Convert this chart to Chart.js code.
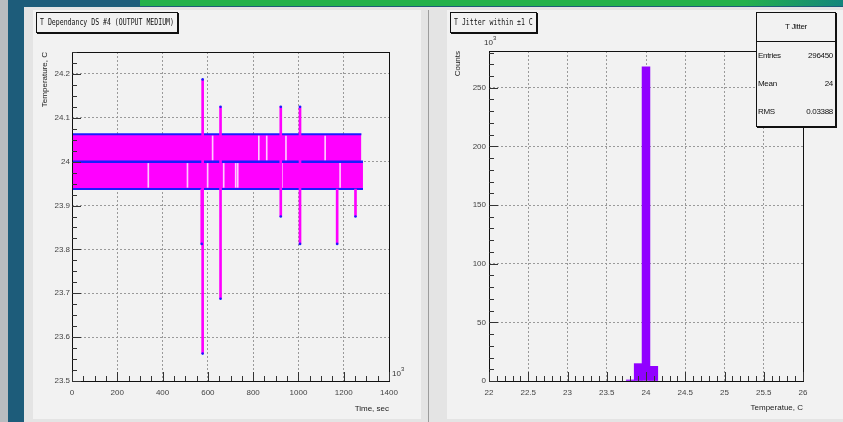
<!DOCTYPE html>
<html>
<head>
<meta charset="utf-8">
<script src="https://cdn.jsdelivr.net/npm/chart.js@4.4.1/dist/chart.umd.min.js"></script>
<style>
  body { margin: 0; width: 843px; height: 422px; overflow: hidden; position: relative; background: #1d5c7a; font-family: "Liberation Sans", sans-serif; }
  .abs { position: absolute; }
  #edge  { left: 0; top: 0; width: 8px; height: 422px; background: #b8bcc0; }
  #green { left: 140px; top: 0; width: 703px; height: 6px; background: linear-gradient(to right, #23b14b 0%, #23b14b 86%, #13857c 100%); }
  #win   { left: 24px; top: 7px; width: 819px; height: 415px; background: #e4e4e4; }
  #padL  { left: 33px; top: 10px; width: 388px; height: 409px; background: #f2f2f2; }
  #padR  { left: 447px; top: 10px; width: 396px; height: 409px; background: #f2f2f2; }
  #sep   { left: 428px; top: 10px; width: 1px; height: 412px; background: #9c9c9c; }
  canvas { position: absolute; left: 0; top: 0; }
  .ttl { position: absolute; box-sizing: border-box; border: 1px solid #111; box-shadow: 1px 1px 0 #111; background: #f2f2f2; overflow: hidden; }
  .ttl span { position: absolute; left: 3px; top: 0; line-height: 19px; font-family: "DejaVu Sans Mono", monospace; font-size: 8.5px;
              color: #111; white-space: nowrap; transform: scaleX(0.77); transform-origin: 0 50%; }
  .exp { position: absolute; font-size: 8px; color: #333; }
  .exp sup { font-size: 6px; position: relative; top: -1px; }
  #stats { left: 756px; top: 12px; width: 80px; height: 115px; box-sizing: border-box; border: 1px solid #111; box-shadow: 1px 1px 0 #111;
           background: #f2f2f2; font-size: 8px; letter-spacing: -0.3px; color: #111; }
  #stats .hd { height: 28px; line-height: 28px; text-align: center; border-bottom: 1px solid #111; }
  #stats .row { height: 28px; line-height: 28px; display: flex; justify-content: space-between; padding: 0 2px 0 1px; }
</style>
</head>
<body>
<div id="edge" class="abs"></div>
<div id="green" class="abs"></div>
<div id="win" class="abs"></div>
<div id="sep" class="abs"></div>
<div id="padL" class="abs"><canvas id="cvL" width="388" height="409"></canvas></div>
<div id="padR" class="abs"><canvas id="cvR" width="396" height="409"></canvas></div>

<div class="ttl" style="left:36px;top:12px;width:142px;height:21px;"><span>T Dependancy DS #4 (OUTPUT MEDIUM)</span></div>
<div class="ttl" style="left:450px;top:12px;width:87px;height:21px;"><span>T Jitter within ±1 C</span></div>
<div class="exp" style="left:392px;top:367px;">10<sup>3</sup></div>
<div class="exp" style="left:484px;top:36px;">10<sup>3</sup></div>
<div id="stats" class="abs"></div>

<script>
/* ── left pad: temperature vs time (time in 10^3 sec) ── */
const bandTop    = [24.0625, 24.0];     // upper band, lower band
const bandBottom = [24.0, 23.9375];
const bandEnd    = [1278, 1285];

const spikeTime = [573, 577, 656, 922, 1007, 1171, 1252];
const spikeLow  = [23.8125, 23.5625, 23.6875, 23.875, 23.8125, 23.8125, 23.875];
const spikeHigh = [23.9375, 24.1875, 24.125, 24.125, 24.125, 23.9375, 23.9375];

// short dropouts visible as light lines through the bands
const upperGapTime = [621, 825, 860, 945, 1118];
const lowerGapTime = [337, 510, 599, 670, 723, 732, 927, 1007, 1184];

/* ── right pad: jitter histogram (counts in 10^3) ── */
const binCenter = [23.8, 23.9, 24.0, 24.1];
const binCount  = [0.9, 14.8, 267.9, 12.5];

const statLabels = ['Entries', 'Mean', 'RMS'];
const statValues = ['296450', '24', '0.03388'];

const TICK_FONT = { family: 'Liberation Sans', size: 8 };
const BLUE = '#1c1cff', MAGENTA = '#ff00ff', VIOLET = '#9100ff';

// ROOT style frame + inner tick marks
const rootFrame = {
  id: 'rootFrame',
  afterDraw(chart, args, o) {
    const { ctx, chartArea: a, scales: { x, y } } = chart;
    ctx.save();
    ctx.strokeStyle = '#111';
    ctx.lineWidth = 1;
    ctx.strokeRect(Math.round(a.left) + 0.5, Math.round(a.top) + 0.5, Math.round(a.right - a.left), Math.round(a.bottom - a.top));
    ctx.strokeStyle = '#333';
    ctx.beginPath();
    const marks = (sc, minor, major, fn) => {
      for (let i = Math.ceil(sc.min / minor - 1e-6); i * minor <= sc.max + 1e-9; i++) {
        const v = i * minor;
        const isMaj = Math.abs(v / major - Math.round(v / major)) < 1e-6;
        fn(Math.round(sc.getPixelForValue(v)) + 0.5, isMaj ? 9 : 5);
      }
    };
    marks(x, o.xMinor, o.xMajor, (px, len) => { ctx.moveTo(px, a.bottom); ctx.lineTo(px, a.bottom - len); });
    marks(y, o.yMinor, o.yMajor, (py, len) => { ctx.moveTo(a.left, py); ctx.lineTo(a.left + len, py); });
    ctx.stroke();
    ctx.restore();
  }
};

function axisOpts(extra) {
  return Object.assign({
    type: 'linear', offset: false,
    grid: { color: '#9a9a9a', drawTicks: false, offset: false },
    border: { display: false, dash: [2, 2] },
  }, extra);
}

/* left chart datasets */
const tips = [];
spikeTime.forEach((t, i) => {
  if (spikeLow[i] < bandBottom[1]) tips.push({ x: t, y: spikeLow[i] });
  if (spikeHigh[i] > bandTop[0]) tips.push({ x: t, y: spikeHigh[i] });
});
const gapInset = 0.004;
const gaps = upperGapTime.map(t => ({ x: t, y: [bandBottom[0] + gapInset, bandTop[0] - gapInset] }))
  .concat(lowerGapTime.map(t => ({ x: t, y: [bandBottom[1] + gapInset, bandTop[1] - gapInset] })));

new Chart(document.getElementById('cvL'), {
  type: 'scatter',
  data: {
    datasets: [
      { type: 'scatter', data: tips, pointRadius: 1.3, pointBackgroundColor: BLUE, pointBorderWidth: 0 },
      { type: 'bar', data: spikeTime.map((t, i) => ({ x: t, y: [spikeLow[i], spikeHigh[i]] })),
        backgroundColor: MAGENTA, barThickness: 2, grouped: false },
      { type: 'bar', data: gaps, backgroundColor: 'rgba(255,235,255,0.85)', barThickness: 1, grouped: false },
      { type: 'line', data: [{ x: 0, y: bandBottom[0] }, { x: Math.max(...bandEnd), y: bandBottom[0] }],
        borderColor: BLUE, borderWidth: 2.5, pointRadius: 0, fill: false },
      { type: 'line', data: [{ x: 0, y: bandTop[0] }, { x: bandEnd[0], y: bandTop[0] }],
        borderColor: BLUE, borderWidth: 2, pointRadius: 0, fill: { value: bandBottom[0] }, backgroundColor: MAGENTA },
      { type: 'line', data: [{ x: 0, y: bandBottom[1] }, { x: bandEnd[1], y: bandBottom[1] }],
        borderColor: BLUE, borderWidth: 2, pointRadius: 0, fill: { value: bandTop[1] }, backgroundColor: MAGENTA },
    ]
  },
  options: {
    responsive: false, animation: false, events: [],
    layout: { padding: { left: 0, top: 42, right: 32, bottom: 0 } },
    plugins: { legend: { display: false }, tooltip: { enabled: false },
      rootFrame: { xMinor: 50, xMajor: 200, yMinor: 0.025, yMajor: 0.1 } },
    scales: {
      x: axisOpts({ min: 0, max: 1400, afterFit: s => { s.height = 38; },
        ticks: { color: '#444', font: TICK_FONT, autoSkip: false, maxRotation: 0, stepSize: 200, padding: 7,
                 callback: v => String(v) },
        title: { display: true, text: 'Time, sec', align: 'end', color: '#222', font: TICK_FONT, padding: { top: 0, bottom: 5 } } }),
      y: axisOpts({ min: 23.5, max: 24.25, afterFit: s => { s.width = 39; },
        ticks: { color: '#444', font: TICK_FONT, autoSkip: false, stepSize: 0.1, padding: 2, includeBounds: false,
                 callback: v => String(+v.toFixed(2)) },
        title: { display: true, text: 'Temperature, C', align: 'end', color: '#222', font: TICK_FONT, padding: { top: 7, bottom: 0 } } }),
    }
  },
  plugins: [rootFrame]
});

/* right chart */
new Chart(document.getElementById('cvR'), {
  type: 'bar',
  data: { datasets: [{ data: binCenter.map((c, i) => ({ x: c, y: binCount[i] })),
    backgroundColor: VIOLET, borderWidth: 0, barPercentage: 1, categoryPercentage: 1 }] },
  options: {
    responsive: false, animation: false, events: [],
    layout: { padding: { left: 0, top: 41, right: 40, bottom: 0 } },
    plugins: { legend: { display: false }, tooltip: { enabled: false },
      rootFrame: { xMinor: 0.1, xMajor: 0.5, yMinor: 10, yMajor: 50 } },
    scales: {
      x: axisOpts({ min: 22, max: 26, afterFit: s => { s.height = 38; },
        ticks: { color: '#444', font: TICK_FONT, autoSkip: false, maxRotation: 0, stepSize: 0.5, padding: 7,
                 callback: v => String(+v.toFixed(1)) },
        title: { display: true, text: 'Temperatue, C', align: 'end', color: '#222', font: TICK_FONT, padding: { top: 0, bottom: 6 } } }),
      y: axisOpts({ min: 0, max: 281.3, afterFit: s => { s.width = 42; },
        ticks: { color: '#444', font: TICK_FONT, autoSkip: false, stepSize: 50, padding: 3, includeBounds: false },
        title: { display: true, text: 'Counts', align: 'end', color: '#222', font: TICK_FONT, padding: { top: 6, bottom: 0 } } }),
    }
  },
  plugins: [rootFrame]
});

/* stats box */
document.getElementById('stats').innerHTML = '<div class="hd">T Jitter</div>' +
  statLabels.map((l, i) => `<div class="row"><span>${l}</span><span>${statValues[i]}</span></div>`).join('');
</script>
</body>
</html>
